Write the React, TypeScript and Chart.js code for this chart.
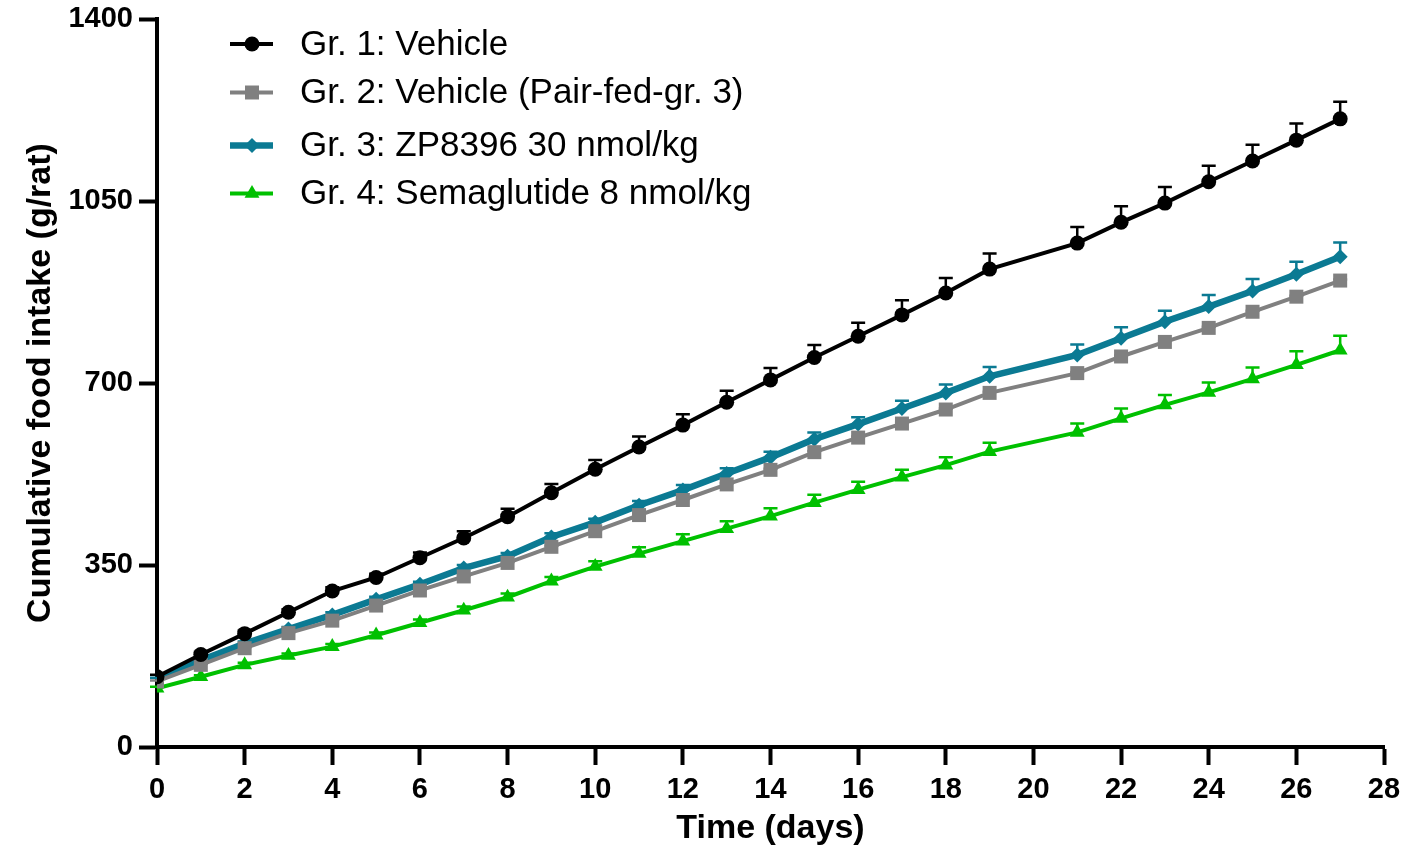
import React, { useEffect, useRef } from 'react';
import { Chart, registerables } from 'chart.js';

Chart.register(...registerables);

// ---- Data ----
const days = [0, 1, 2, 3, 4, 5, 6, 7, 8, 9, 10, 11, 12, 13, 14, 15, 16, 17, 18, 19, 21, 22, 23, 24, 25, 26, 27];

const seriesLabels = [
  'Gr. 1: Vehicle',
  'Gr. 2: Vehicle (Pair-fed-gr. 3)',
  'Gr. 3: ZP8396 30 nmol/kg',
  'Gr. 4: Semaglutide 8 nmol/kg',
];

const gr1Vehicle = [135, 178, 218, 259, 300, 326, 364, 402, 443, 489, 534, 577, 619, 663, 706, 749, 790, 831, 873, 919, 969, 1009, 1046, 1087, 1127, 1167, 1208];
const gr1Err = [4, 5, 6, 6, 7, 7, 10, 13, 15, 17, 18, 20, 21, 22, 23, 24, 26, 28, 29, 30, 31, 31, 31, 31, 31, 32, 33];

const gr2PairFed = [126, 158, 190, 219, 243, 272, 301, 328, 354, 385, 415, 446, 475, 505, 533, 567, 595, 622, 649, 681, 719, 751, 779, 806, 837, 866, 897];
const gr2Err = [2, 2, 2, 2, 2, 2, 2, 2, 2, 2, 2, 2, 2, 2, 2, 2, 2, 2, 2, 2, 2, 2, 2, 2, 2, 2, 2];

const gr3ZP8396 = [130, 167, 199, 227, 254, 284, 313, 344, 367, 404, 432, 465, 494, 526, 557, 592, 621, 651, 681, 713, 754, 786, 818, 847, 877, 909, 943];
const gr3Err = [3, 3, 4, 4, 5, 5, 5, 6, 6, 7, 7, 8, 10, 10, 11, 13, 13, 15, 16, 18, 20, 21, 21, 22, 23, 24, 27];

const gr4Semaglutide = [113, 135, 158, 176, 193, 215, 239, 263, 288, 319, 347, 372, 396, 420, 444, 470, 495, 519, 542, 568, 605, 632, 658, 682, 708, 735, 763];
const gr4Err = [3, 3, 4, 4, 5, 5, 6, 7, 7, 8, 10, 12, 13, 14, 15, 15, 15, 14, 15, 17, 17, 19, 19, 19, 22, 26, 28];

const seriesValues = [gr1Vehicle, gr2PairFed, gr3ZP8396, gr4Semaglutide];
const seriesErrors = [gr1Err, gr2Err, gr3Err, gr4Err];

const seriesColors = ['#000000', '#808080', '#0b7a93', '#00c000'];
const seriesLineWidths = [4, 4, 6.5, 4];
const seriesPointStyles = ['circle', 'rect', 'rectRot', 'triangle'];
const seriesPointRadii = [7.5, 9.9, 7.5, 8.6];

const yTicks = [0, 350, 700, 1050, 1400];
const xTickStep = 2;

const FONT = '"Liberation Sans", Arial, Helvetica, sans-serif';

function drawMarker(ctx: CanvasRenderingContext2D, style: string, x: number, y: number, r: number, color: string) {
  ctx.save();
  ctx.fillStyle = color;
  ctx.beginPath();
  if (style === 'circle') {
    ctx.arc(x, y, r, 0, Math.PI * 2);
  } else if (style === 'rect') {
    const s = r * Math.SQRT1_2;
    ctx.rect(x - s, y - s, 2 * s, 2 * s);
  } else if (style === 'rectRot') {
    ctx.moveTo(x, y - r);
    ctx.lineTo(x + r, y);
    ctx.lineTo(x, y + r);
    ctx.lineTo(x - r, y);
    ctx.closePath();
  } else if (style === 'triangle') {
    ctx.moveTo(x, y - r);
    ctx.lineTo(x + r * 0.866, y + r / 2);
    ctx.lineTo(x - r * 0.866, y + r / 2);
    ctx.closePath();
  }
  ctx.fill();
  ctx.restore();
}

const errorBarPlugin = {
  id: 'errorBars',
  beforeDatasetsDraw(chart: any) {
    const ctx = chart.ctx as CanvasRenderingContext2D;
    const xs = chart.scales.x;
    const ys = chart.scales.y;
    for (let i = seriesValues.length - 1; i >= 0; i--) {
      const vals = seriesValues[i];
      const errs = seriesErrors[i];
      ctx.save();
      ctx.strokeStyle = seriesColors[i];
      ctx.lineWidth = 2.5;
      for (let j = 0; j < days.length; j++) {
        const x = xs.getPixelForValue(days[j]);
        const y = ys.getPixelForValue(vals[j]);
        const yt = ys.getPixelForValue(vals[j] + errs[j]);
        ctx.beginPath();
        ctx.moveTo(x, y);
        ctx.lineTo(x, yt);
        ctx.moveTo(x - 7, yt);
        ctx.lineTo(x + 7, yt);
        ctx.stroke();
      }
      ctx.restore();
    }
  },
};

const legendPlugin = {
  id: 'customLegend',
  afterDraw(chart: any) {
    const ctx = chart.ctx as CanvasRenderingContext2D;
    const lineX0 = 230;
    const lineX1 = 273;
    const markerX = 252;
    const textX = 300;
    const rowY = [44, 92.5, 145.5, 193.5];
    ctx.save();
    for (let i = 0; i < seriesLabels.length; i++) {
      const y = rowY[i];
      ctx.strokeStyle = seriesColors[i];
      ctx.lineWidth = seriesLineWidths[i];
      ctx.beginPath();
      ctx.moveTo(lineX0, y);
      ctx.lineTo(lineX1, y);
      ctx.stroke();
      drawMarker(ctx, seriesPointStyles[i], markerX, y, seriesPointRadii[i], seriesColors[i]);
      ctx.fillStyle = '#000000';
      ctx.font = `35px ${FONT}`;
      ctx.textBaseline = 'middle';
      ctx.textAlign = 'left';
      ctx.fillText(seriesLabels[i], textX, y + 1);
    }
    ctx.restore();
  },
};

export default function App() {
  const canvasRef = useRef<HTMLCanvasElement | null>(null);

  useEffect(() => {
    const canvas = canvasRef.current;
    if (!canvas) return;
    Chart.defaults.font.family = FONT;
    const chart = new Chart(canvas, {
      type: 'line',
      data: {
        datasets: seriesLabels.map((label, i) => ({
          label,
          data: days.map((d, j) => ({ x: d, y: seriesValues[i][j] })),
          borderColor: seriesColors[i],
          backgroundColor: seriesColors[i],
          borderWidth: seriesLineWidths[i],
          pointStyle: seriesPointStyles[i] as any,
          pointRadius: seriesPointRadii[i],
          pointBorderWidth: 0,
          pointBackgroundColor: seriesColors[i],
          pointBorderColor: seriesColors[i],
          tension: 0,
          fill: false,
        })),
      },
      options: {
        responsive: false,
        animation: false,
        events: [],
        devicePixelRatio: 1,
        layout: { padding: { left: 0, right: 20, top: 19, bottom: 0 } },
        plugins: {
          legend: { display: false },
          tooltip: { enabled: false },
          title: { display: false },
        },
        scales: {
          x: {
            type: 'linear',
            min: 0,
            max: 28,
            afterFit: (scale: any) => {
              scale.height = 100;
              scale.paddingLeft = 0;
              scale.paddingRight = 0;
            },
            ticks: {
              stepSize: xTickStep,
              color: '#000000',
              font: { size: 29, weight: 'bold', family: FONT },
              padding: 8,
              maxRotation: 0,
              autoSkip: false,
              callback: (v: any) => String(v),
            },
            grid: {
              display: true,
              drawOnChartArea: false,
              drawTicks: true,
              tickLength: 18,
              tickWidth: 4,
              tickColor: '#000000',
            },
            border: { display: true, color: '#000000', width: 4 },
            title: {
              display: true,
              text: 'Time (days)',
              color: '#000000',
              font: { size: 34, weight: 'bold', family: FONT, lineHeight: 1.1 },
              padding: { top: 0, bottom: 0 },
            },
          },
          y: {
            type: 'linear',
            min: 0,
            max: 1400,
            afterFit: (scale: any) => {
              scale.width = 157;
              scale.paddingTop = 0;
              scale.paddingBottom = 0;
            },
            afterBuildTicks: (scale: any) => {
              scale.ticks = yTicks.map((v) => ({ value: v }));
            },
            ticks: {
              color: '#000000',
              font: { size: 29, weight: 'bold', family: FONT },
              padding: 6,
              autoSkip: false,
              callback: (v: any) => String(v),
            },
            grid: {
              display: true,
              drawOnChartArea: false,
              drawTicks: true,
              tickLength: 18,
              tickWidth: 4,
              tickColor: '#000000',
            },
            border: { display: true, color: '#000000', width: 4 },
            title: {
              display: true,
              text: 'Cumulative food intake (g/rat)',
              color: '#000000',
              font: { size: 34, weight: 'bold', family: FONT },
              padding: { top: 20, bottom: 0 },
            },
          },
        },
      },
      plugins: [errorBarPlugin, legendPlugin],
    });
    return () => {
      chart.destroy();
    };
  }, []);

  return (
    <div style={{ position: 'absolute', left: 0, top: 0, width: 1404, height: 847, background: '#ffffff' }}>
      <canvas ref={canvasRef} width={1404} height={847} style={{ width: 1404, height: 847, display: 'block' }} />
    </div>
  );
}
